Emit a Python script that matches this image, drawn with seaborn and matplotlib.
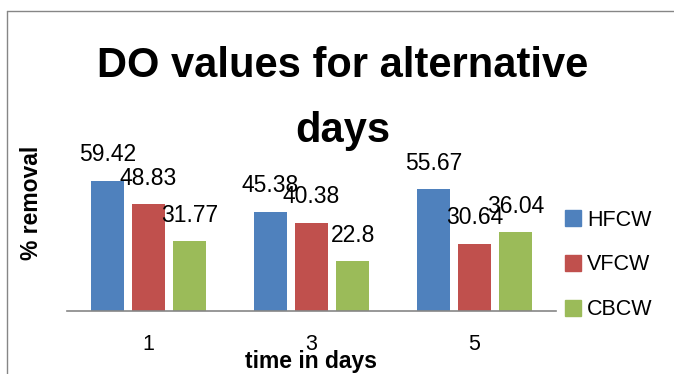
import matplotlib
matplotlib.use("Agg")
import matplotlib.pyplot as plt
import seaborn as sns
import pandas as pd
from matplotlib.lines import Line2D

# ---- data ----
days = ["1", "3", "5"]
systems = ["HFCW", "VFCW", "CBCW"]
hfcw = [59.42, 45.38, 55.67]
vfcw = [48.83, 40.38, 30.64]
cbcw = [31.77, 22.8, 36.04]
colors = ["#4F81BD", "#C0504D", "#9BBB59"]

title_line1 = "DO values for alternative"
title_line2 = "days"
x_label = "time in days"
y_label = "% removal"

rows = []
for sysname, vals in zip(systems, [hfcw, vfcw, cbcw]):
    for d, v in zip(days, vals):
        rows.append({"day": d, "system": sysname, "value": v})
df = pd.DataFrame(rows)

sns.set_style("white")
plt.rcParams["font.family"] = ["Liberation Sans", "DejaVu Sans"]
plt.rcParams["text.color"] = "black"
plt.rcParams["axes.labelcolor"] = "black"
plt.rcParams["xtick.color"] = "black"

W, H = 674, 374
fig = plt.figure(figsize=(W / 100, H / 100), dpi=100)
fig.patch.set_facecolor("white")

def fx(px):
    return px / W

def fy(py):
    return (H - py) / H

# axes placement (pixels): x 67..556, y baseline 311, 0..70 spans 153 px
ax = fig.add_axes([fx(67), fy(311), (556 - 67) / W, 153.2 / H])
sns.barplot(data=df, x="day", y="value", hue="system", order=days,
            hue_order=systems, palette=colors, saturation=1, width=0.756,
            gap=0.195, linewidth=0, legend=False, ax=ax)
ax.set_ylim(0, 70)
ax.set_xlim(-0.5, 2.5)

for cont, vals in zip(ax.containers, [hfcw, vfcw, cbcw]):
    ax.bar_label(cont, labels=[f"{v:g}" for v in vals], padding=10.5,
                 fontsize=16.5, color="black")

for s in ["top", "right", "left"]:
    ax.spines[s].set_visible(False)
ax.spines["bottom"].set_color("#868686")
ax.spines["bottom"].set_linewidth(1.2)
ax.set_yticks([])
ax.tick_params(axis="x", length=0, pad=16.5, labelsize=15.5,
               labelcolor="black")
ax.set_facecolor("white")

ax.set_xlabel(x_label, fontsize=16.5, fontweight="bold", va="baseline")
ax.xaxis.set_label_coords(fx(311), fy(368), transform=fig.transFigure)
ax.set_ylabel(y_label, fontsize=16.5, fontweight="bold", va="center")
ax.yaxis.set_label_coords(fx(31), fy(203), transform=fig.transFigure)

# title (two lines as in the reference)
fig.text(fx(342.5), fy(77), title_line1, ha="center", va="baseline",
         fontsize=30, fontweight="bold", color="black")
fig.text(fx(343), fy(142), title_line2, ha="center", va="baseline",
         fontsize=30, fontweight="bold", color="black")

# legend
handles = [Line2D([0], [0], marker="s", linestyle="none", markersize=11,
                  markerfacecolor=c, markeredgecolor=c) for c in colors]
ax.legend(handles, systems, loc="center left",
          bbox_to_anchor=(fx(565), fy(265)), bbox_transform=fig.transFigure,
          frameon=False, fontsize=15.5, handlelength=0.7, handletextpad=0.33,
          labelspacing=1.1, borderpad=0, borderaxespad=0)

# chart frame (left and top edges visible in the reference)
fig.add_artist(Line2D([fx(7), fx(7)], [fy(11), 0], color="#868686", lw=1.0,
                      transform=fig.transFigure))
fig.add_artist(Line2D([fx(7), 1], [fy(11), fy(11)], color="#868686", lw=1.0,
                      transform=fig.transFigure))

fig.savefig("out.png", dpi=100, facecolor="white")
